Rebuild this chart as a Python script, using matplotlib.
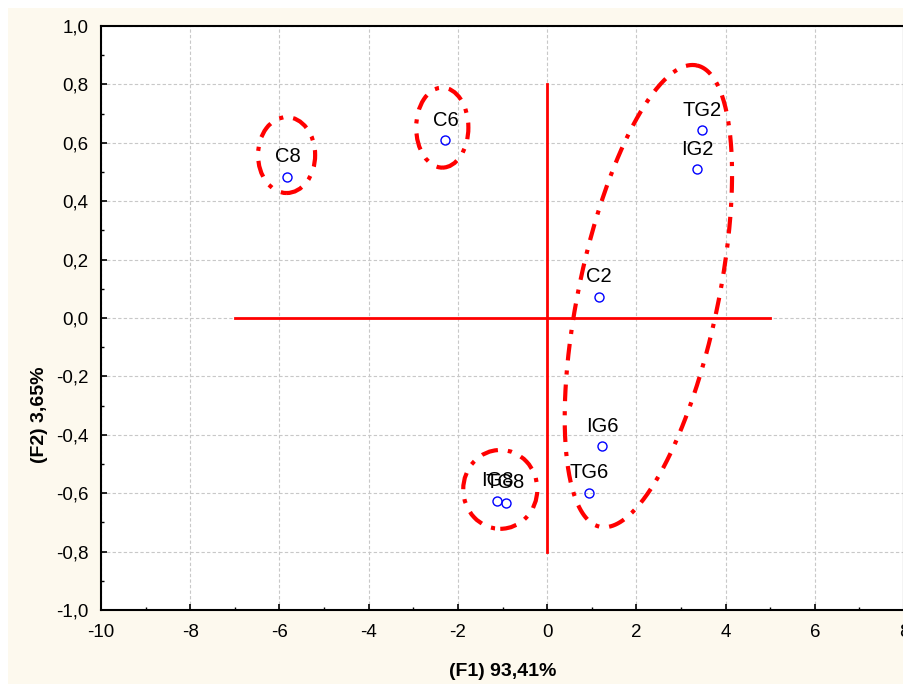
import numpy as np
import matplotlib
matplotlib.use("Agg")
import matplotlib.pyplot as plt
from matplotlib.patches import Ellipse, Rectangle
from matplotlib.ticker import FuncFormatter, MultipleLocator

plt.rcParams["font.family"] = ["Liberation Sans", "DejaVu Sans"]

# muestras y coordenadas en el plano F1-F2
etiquetas = ["C8", "C6", "TG2", "IG2", "C2", "IG6", "TG6", "IG8", "TG8"]
f1 = [-5.82, -2.28, 3.47, 3.36, 1.16, 1.24, 0.94, -1.12, -0.93]
f2 = [0.483, 0.609, 0.643, 0.510, 0.073, -0.440, -0.598, -0.625, -0.632]

# grupos marcados a mano (centro x, centro y, ancho, alto)
grupos_simples = [
    (-5.84, 0.558, 1.28, 0.26),
    (-2.35, 0.652, 1.17, 0.274),
    (-1.05, -0.587, 1.66, 0.27),
]
# grupo grande inclinado: centro y dos semiejes (en unidades de datos)
grupo_grande_centro = (2.27, 0.075)
grupo_grande_eje1 = (1.085, 0.790)
grupo_grande_eje2 = (1.53, -0.049)

crema = "#fdf9ee"
rojo = "#ff0000"
trazo = (0, (4, 2.4, 1, 2.4))

fig = plt.figure(figsize=(9.04, 6.84), dpi=100, facecolor="white")
fig.patches.append(Rectangle((8 / 904, 0), 1, 1 - 8 / 684, transform=fig.transFigure,
                             facecolor=crema, edgecolor="none", zorder=-10))
ax = fig.add_axes([101 / 904, 1 - 610 / 684, 803 / 904, 584 / 684])
ax.set_facecolor("white")

ax.set_xlim(-10, 8)
ax.set_ylim(-1.0, 1.0)
ax.xaxis.set_major_locator(MultipleLocator(2))
ax.xaxis.set_minor_locator(MultipleLocator(1))
ax.yaxis.set_major_locator(MultipleLocator(0.2))
ax.yaxis.set_minor_locator(MultipleLocator(0.1))
ax.xaxis.set_major_formatter(FuncFormatter(lambda v, p: f"{v:.0f}".replace("\u2212", "-")))
ax.yaxis.set_major_formatter(FuncFormatter(lambda v, p: f"{v:.1f}".replace(".", ",")))
ax.tick_params(which="both", direction="in", labelsize=13.5, colors="black")
ax.tick_params(which="major", length=4, width=1.2)
ax.tick_params(axis="x", which="major", pad=10)
ax.tick_params(axis="y", which="major", pad=9)
ax.tick_params(which="minor", length=2, width=1)
ax.grid(True, which="major", color="#c8c8c8", linestyle=(0, (3, 2)), linewidth=0.8)
ax.set_axisbelow(True)
for s in ax.spines.values():
    s.set_linewidth(1.5)
    s.set_color("black")

# ejes de referencia en rojo
ax.plot([-7, 5], [0, 0], color=rojo, linewidth=2, zorder=3)
ax.plot([0, 0], [-0.8, 0.8], color=rojo, linewidth=2, zorder=3)

ax.plot(f1, f2, linestyle="none", marker="o", markersize=6.5, markerfacecolor="none",
        markeredgecolor="blue", markeredgewidth=1, zorder=5)
for nombre, x, y in zip(etiquetas, f1, f2):
    ax.annotate(nombre, (x, y), xytext=(0, 20), textcoords="offset pixels",
                ha="center", va="center", fontsize=14.5, zorder=6)

for cx, cy, w, h in grupos_simples:
    ax.add_patch(Ellipse((cx, cy), w, h, fill=False, edgecolor=rojo, linewidth=3,
                         linestyle=trazo, zorder=4))

t = np.linspace(0, 2 * np.pi, 400)
ex = grupo_grande_centro[0] + grupo_grande_eje1[0] * np.cos(t) + grupo_grande_eje2[0] * np.sin(t)
ey = grupo_grande_centro[1] + grupo_grande_eje1[1] * np.cos(t) + grupo_grande_eje2[1] * np.sin(t)
ax.plot(ex, ey, color=rojo, linewidth=3, linestyle=trazo, zorder=4)

ax.set_xlabel("(F1) 93,41%", fontsize=14, fontweight="bold", labelpad=16)
ax.set_ylabel("(F2) 3,65%", fontsize=14, fontweight="bold")
ax.yaxis.set_label_coords(-0.066, 0.334)

fig.savefig("out.png", dpi=100, facecolor=fig.get_facecolor())
